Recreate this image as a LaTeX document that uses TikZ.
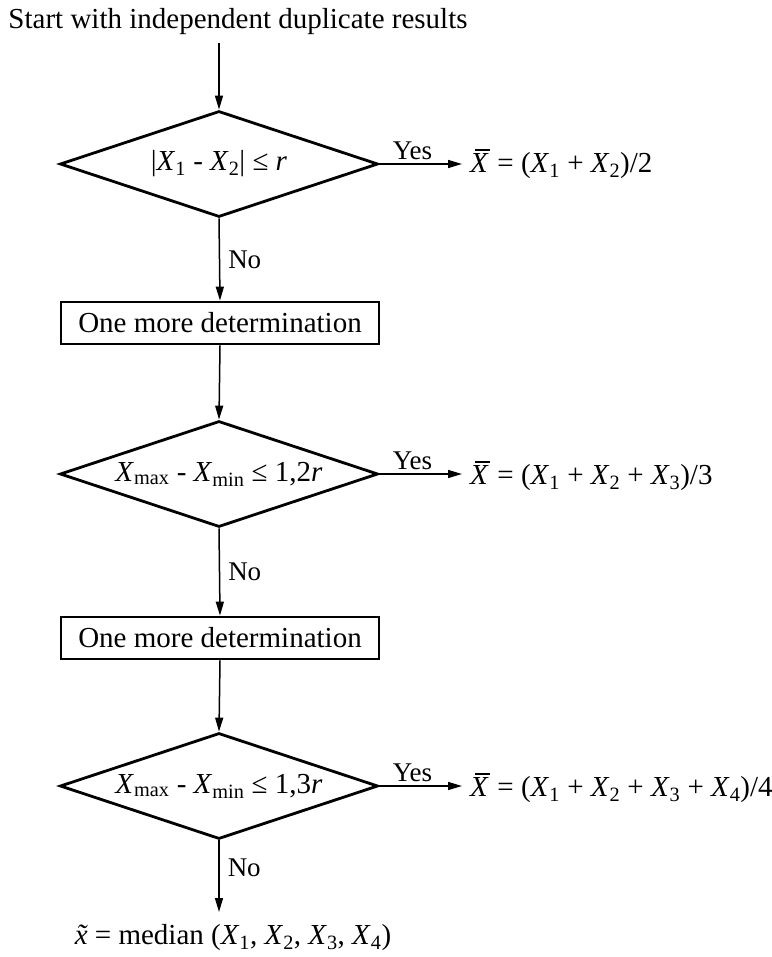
\documentclass[tikz,border=0pt]{standalone}
\usepackage{fontspec}
\setmainfont{Liberation Serif}
\usetikzlibrary{shapes.geometric,arrows.meta}
\newcommand\vx[1]{\textit{X}\textsubscript{#1}}
\newcommand\xbar{\ooalign{\textit{X}\cr\hskip0.17em\rule[0.76em]{0.52em}{0.055em}\cr}}
\newcommand\xtil{\textit{\accent"02DC x}}
\begin{document}
\begin{tikzpicture}[x=1pt,y=-1pt,
  every node/.style={font=\fontsize{29}{34}\selectfont, inner sep=0pt},
  dec/.style={diamond, draw, line width=2.8pt, aspect=3, minimum width=318pt, minimum height=106pt},
  box/.style={rectangle, draw, line width=2.8pt, minimum width=318pt, minimum height=42pt},
  arr/.style={line width=1.5pt, -{Triangle[length=14pt,width=8pt]}},
  lbl/.style={font=\fontsize{27}{31}\selectfont}]
\path[use as bounding box] (0,0) rectangle (771,957);
\node (start) at (238,22) {Start with independent duplicate results};
\node[dec] (d1) at (219,164) {|\vx{1} - \vx{2}| ≤ \textit{r}};
\node[box] (b1) at (220,323) {One more determination};
\node[dec] (d2) at (219,474) {\textit{X}\textsubscript{max} - \textit{X}\textsubscript{min} ≤ 1,2\textit{r}};
\node[box] (b2) at (220,638) {One more determination};
\node[dec] (d3) at (219,786) {\textit{X}\textsubscript{max} - \textit{X}\textsubscript{min} ≤ 1,3\textit{r}};
\node[anchor=west] (r1) at (470,166) {\xbar{} = (\vx{1} + \vx{2})/2};
\node[anchor=west] (r2) at (470,478) {\xbar{} = (\vx{1} + \vx{2} + \vx{3})/3};
\node[anchor=west] (r3) at (470,790) {\xbar{} = (\vx{1} + \vx{2} + \vx{3} + \vx{4})/4};
\node (med) at (233,938) {\xtil{} = median (\vx{1}, \vx{2}, \vx{3}, \vx{4})};
\draw[arr] (d1.north |- start.south) ++(0,8) -- (d1.north);
\draw[arr] (d1.east) -- node[pos=0.4, above=3pt, lbl]{Yes} (462,164);
\draw[arr] (d1.south) -- node[right=8pt, lbl]{No} (b1.north);
\draw[arr] (b1.south) -- (d2.north);
\draw[arr] (d2.east) -- node[pos=0.4, above=3pt, lbl]{Yes} (462,474);
\draw[arr] (d2.south) -- node[right=8pt, lbl]{No} (b2.north);
\draw[arr] (b2.south) -- (d3.north);
\draw[arr] (d3.east) -- node[pos=0.4, above=3pt, lbl]{Yes} (462,786);
\draw[arr] (d3.south) -- node[pos=0.38, right=8pt, lbl]{No} (d3.south |- 0,912);
\end{tikzpicture}
\end{document}
